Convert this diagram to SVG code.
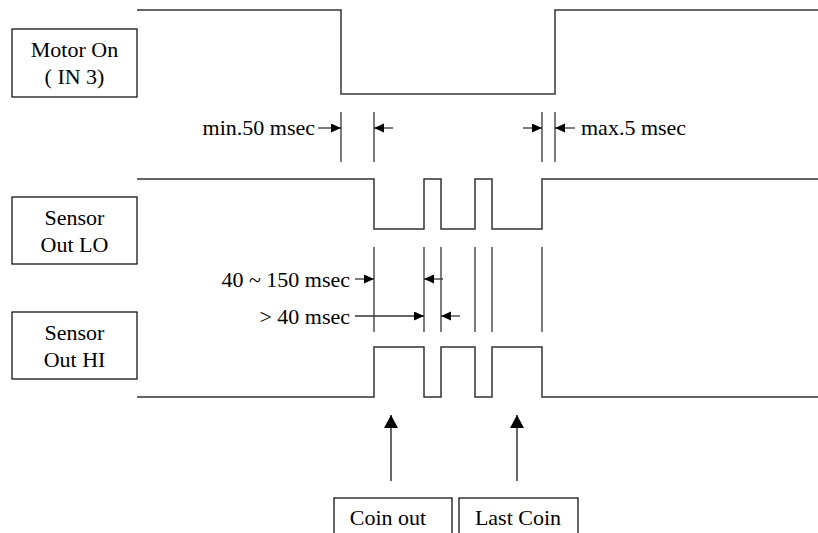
<svg xmlns="http://www.w3.org/2000/svg" width="818" height="533" viewBox="0 0 818 533" font-family="'Liberation Serif', 'DejaVu Serif', serif" font-size="22">
<style>
text{font-family:'Liberation Serif','DejaVu Serif',serif;font-size:22px;fill:#000}
.box{fill:#fff;stroke:#000;stroke-width:1.2}
.wave{fill:none;stroke:#333;stroke-width:1.5}
.tick{stroke:#333;stroke-width:1.3}
.arr{stroke:#333;stroke-width:1.3;marker-end:url(#ah)}
.up{stroke:#333;stroke-width:1.5;marker-end:url(#ahb)}
</style>
<defs>
<marker id="ah" markerUnits="userSpaceOnUse" markerWidth="11" markerHeight="10" refX="10" refY="4.5" orient="auto"><path d="M0,0 L10,4.5 L0,9 z" fill="#000"/></marker>
<marker id="ahb" markerUnits="userSpaceOnUse" markerWidth="14" markerHeight="15" refX="13" refY="7" orient="auto"><path d="M0,0 L13,7 L0,14 z" fill="#000"/></marker>
</defs>
<rect width="818" height="533" fill="#fff"/>
<g id="motor-label"><rect class="box" x="12" y="29" width="125" height="68"/><text x="74.5" y="57" text-anchor="middle">Motor On</text><text x="74.5" y="84" text-anchor="middle">( IN 3)</text></g>
<g id="sensor-lo-label"><rect class="box" x="12" y="197" width="125" height="67"/><text x="74.5" y="225" text-anchor="middle">Sensor</text><text x="74.5" y="252" text-anchor="middle">Out LO</text></g>
<g id="sensor-hi-label"><rect class="box" x="12" y="312" width="125" height="67"/><text x="74.5" y="340" text-anchor="middle">Sensor</text><text x="74.5" y="367" text-anchor="middle">Out HI</text></g>
<g id="coin-out"><rect class="box" x="334" y="498" width="118" height="45"/><text x="388" y="525" text-anchor="middle">Coin out</text></g>
<g id="last-coin"><rect class="box" x="459" y="498" width="119" height="45"/><text x="518" y="525" text-anchor="middle">Last Coin</text></g>
<g id="motor-wave"><path class="wave" d="M137,10 H341 V94 H555 V10 H818"/></g>
<g id="sensor-lo-wave"><path class="wave" d="M137,179 H374 V229 H424 V179 H441 V229 H475 V179 H492 V229 H542 V179 H818"/></g>
<g id="sensor-hi-wave"><path class="wave" d="M137,397 H374 V347 H424 V397 H441 V347 H475 V397 H492 V347 H542 V397 H818"/></g>
<g id="connectors">
<line class="tick" x1="341" y1="112" x2="341" y2="162"/>
<line class="tick" x1="374" y1="112" x2="374" y2="162"/>
<line class="tick" x1="542" y1="112" x2="542" y2="162"/>
<line class="tick" x1="555" y1="112" x2="555" y2="162"/>
<line class="tick" x1="374" y1="247" x2="374" y2="332"/>
<line class="tick" x1="424" y1="247" x2="424" y2="332"/>
<line class="tick" x1="441" y1="247" x2="441" y2="332"/>
<line class="tick" x1="475" y1="247" x2="475" y2="332"/>
<line class="tick" x1="492" y1="247" x2="492" y2="332"/>
<line class="tick" x1="542" y1="247" x2="542" y2="332"/>
<line class="arr" x1="318" y1="128" x2="341" y2="128"/>
<line class="arr" x1="393" y1="128" x2="374" y2="128"/>
<line class="arr" x1="523" y1="128" x2="542" y2="128"/>
<line class="arr" x1="575" y1="128" x2="555" y2="128"/>
<line class="arr" x1="355" y1="279" x2="374" y2="279"/>
<line class="arr" x1="443" y1="279" x2="424" y2="279"/>
<line class="arr" x1="355" y1="316" x2="424" y2="316"/>
<line class="arr" x1="460" y1="316" x2="441" y2="316"/>
<line class="up" x1="391" y1="481" x2="391" y2="415"/>
<line class="up" x1="517" y1="481" x2="517" y2="415"/>
</g>
<g id="labels">
<text x="315" y="135" text-anchor="end">min.50 msec</text>
<text x="581" y="135">max.5 msec</text>
<text x="350" y="287" text-anchor="end">40 ~ 150 msec</text>
<text x="350" y="324" text-anchor="end">&gt; 40 msec</text>
</g>
</svg>
